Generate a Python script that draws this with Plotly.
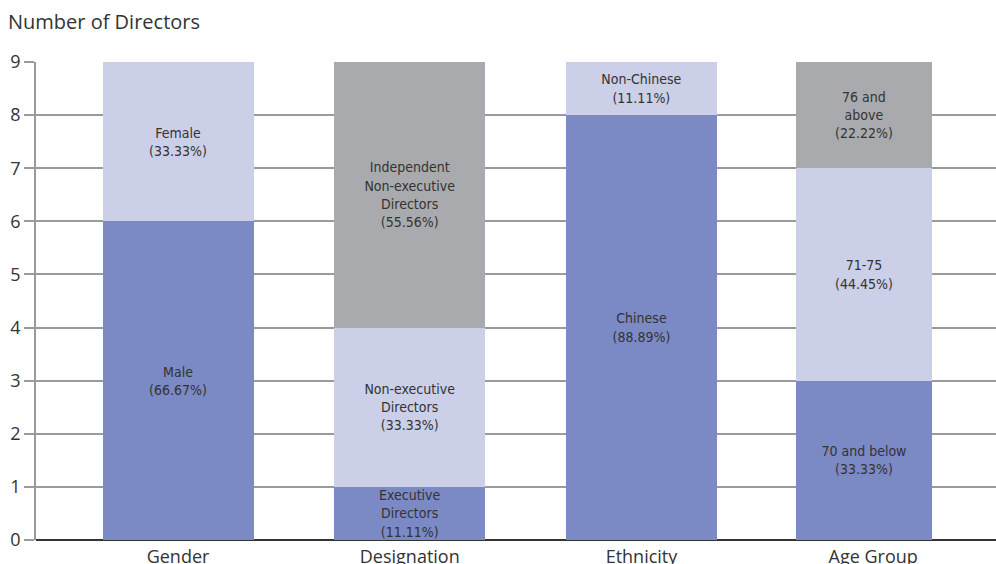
import plotly.graph_objects as go

categories = ["Gender", "Designation", "Ethnicity", "Age Group"]

bottom_values = [6, 1, 8, 3]
bottom_labels = ["Male<br>(66.67%)", "Executive<br>Directors<br>(11.11%)",
                 "Chinese<br>(88.89%)", "70 and below<br>(33.33%)"]

middle_values = [3, 3, 1, 4]
middle_labels = ["Female<br>(33.33%)", "Non-executive<br>Directors<br>(33.33%)",
                 "Non-Chinese<br>(11.11%)", "71-75<br>(44.45%)"]

top_values = [0, 5, 0, 2]
top_labels = ["", "Independent<br>Non-executive<br>Directors<br>(55.56%)",
              "", "76 and<br>above<br>(22.22%)"]

y_ticks = list(range(0, 10))

colors = ["#7b89c4", "#cbcfe8", "#a9aaad"]
bar_width = [0.652, 0.652, 0.652, 0.59]
bar_offset = [-0.326, -0.326, -0.326, -0.335]

label_font = dict(family="DejaVu Sans Condensed, Open Sans, sans-serif", size=14, color="#333333")

fig = go.Figure()
for vals, labels, col in [(bottom_values, bottom_labels, colors[0]),
                          (middle_values, middle_labels, colors[1]),
                          (top_values, top_labels, colors[2])]:
    fig.add_trace(go.Bar(
        x=categories, y=vals, text=labels,
        textposition="inside", insidetextanchor="middle",
        textfont=label_font, textangle=0,
        marker=dict(color=col, line=dict(width=0)),
        width=bar_width, offset=bar_offset,
        hoverinfo="skip", showlegend=False,
    ))

fig.update_layout(
    barmode="stack",
    width=996, height=564,
    margin=dict(l=36, r=0, t=62, b=24),
    plot_bgcolor="white", paper_bgcolor="white",
    uniformtext=dict(mode="show", minsize=14),
    title=dict(text="Number of Directors", x=0.008, xanchor="left",
               y=1 - 22 / 564, yanchor="middle", yref="container",
               font=dict(family="Open Sans, sans-serif", size=20, color="#333333")),
    font=dict(family="Open Sans, sans-serif", color="#333333"),
)
fig.update_xaxes(
    type="category", range=[-0.613, 3.53],
    showgrid=False, showline=False, ticks="",
    tickfont=dict(size=18, color="#333333"),
    ticklabelstandoff=4, automargin=False,
    fixedrange=True,
)
fig.update_yaxes(
    range=[0, 9], tickvals=y_ticks,
    showgrid=True, gridcolor="#9a9a9a", gridwidth=1.5,
    zeroline=True, zerolinecolor="#333333", zerolinewidth=1.5,
    showline=True, linecolor="#9a9a9a", linewidth=1.5,
    ticks="outside", ticklen=10, tickcolor="#9a9a9a", tickwidth=1.5,
    tickfont=dict(size=18, color="#333333"),
    automargin=False,
    fixedrange=True,
)

fig.write_html("out.html")
